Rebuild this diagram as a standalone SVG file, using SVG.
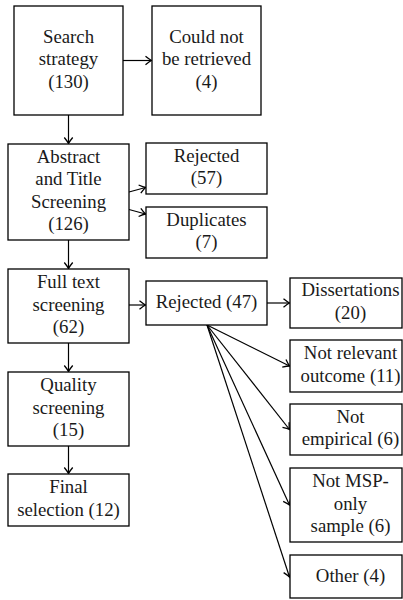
<svg xmlns="http://www.w3.org/2000/svg" width="403" height="600" viewBox="0 0 403 600">
<style>
.box{fill:#fff;stroke:#000;stroke-width:1.3}
text{font-size:18.8px;text-anchor:middle;fill:#1a1a1a}
.c{fill:none;stroke:#000;stroke-width:1.2}
</style>
<defs>
<marker id="ah" markerUnits="userSpaceOnUse" markerWidth="12" markerHeight="12" viewBox="-8 -6 10 12" refX="0" refY="0" orient="auto">
<path d="M-6,-4.2 Q-2,-1 0,0 Q-2,1 -6,4.2" fill="none" stroke="#000" stroke-width="1.3"/>
</marker>
</defs>
<rect width="403" height="600" fill="#fff"/>
<g id="connectors">
<path class="c" d="M123,60.5 L151.5,60.5" marker-end="url(#ah)"/>
<path class="c" d="M68.5,115 L68.5,143.5" marker-end="url(#ah)"/>
<path class="c" d="M129,192 L145.5,187.5" marker-end="url(#ah)"/>
<path class="c" d="M129,209.5 L145.5,214" marker-end="url(#ah)"/>
<path class="c" d="M68.5,240 L68.5,268.5" marker-end="url(#ah)"/>
<path class="c" d="M129,305 L145.5,305" marker-end="url(#ah)"/>
<path class="c" d="M68.5,343 L68.5,371.5" marker-end="url(#ah)"/>
<path class="c" d="M68.5,446 L68.5,473.5" marker-end="url(#ah)"/>
<path class="c" d="M267,303 L289.5,303" marker-end="url(#ah)"/>
<path class="c" d="M207,325 L289.5,366" marker-end="url(#ah)"/>
<path class="c" d="M207,325 L289.5,429.5" marker-end="url(#ah)"/>
<path class="c" d="M207,325 L289.5,505" marker-end="url(#ah)"/>
<path class="c" d="M207,325 L289.5,577" marker-end="url(#ah)"/>
</g>
<g font-family="Liberation Serif">
<g id="search"><rect class="box" x="14" y="6" width="109" height="109"/>
<text x="68.5" y="42.5">Search</text><text x="68.5" y="65">strategy</text><text x="68.5" y="87.5">(130)</text></g>
<g id="couldnot"><rect class="box" x="152" y="6" width="109" height="109"/>
<text x="206.5" y="42.5">Could not</text><text x="206.5" y="65">be retrieved</text><text x="206.5" y="87.5">(4)</text></g>
<g id="abstract"><rect class="box" x="8" y="144" width="121" height="96"/>
<text x="68.5" y="162.75">Abstract</text><text x="68.5" y="185.25">and Title</text><text x="68.5" y="207.75">Screening</text><text x="68.5" y="230.25">(126)</text></g>
<g id="rejected57"><rect class="box" x="146" y="143" width="121" height="51"/>
<text x="206.5" y="161.75">Rejected</text><text x="206.5" y="184.25">(57)</text></g>
<g id="duplicates"><rect class="box" x="146" y="207" width="121" height="51"/>
<text x="206.5" y="225.75">Duplicates</text><text x="206.5" y="248.25">(7)</text></g>
<g id="fulltext"><rect class="box" x="8" y="269" width="121" height="74"/>
<text x="68.5" y="288">Full text</text><text x="68.5" y="310.5">screening</text><text x="68.5" y="333">(62)</text></g>
<g id="rejected47"><rect class="box" x="146" y="281" width="121" height="44"/>
<text x="206.5" y="307.5">Rejected (47)</text></g>
<g id="quality"><rect class="box" x="8" y="372" width="121" height="74"/>
<text x="68.5" y="391">Quality</text><text x="68.5" y="413.5">screening</text><text x="68.5" y="436">(15)</text></g>
<g id="final"><rect class="box" x="8" y="474" width="121" height="52"/>
<text x="68.5" y="493.25">Final</text><text x="68.5" y="515.75">selection (12)</text></g>
<g id="dissertations"><rect class="box" x="290" y="278" width="112" height="50"/>
<text x="350.5" y="296.25">Dissertations</text><text x="350.5" y="318.75">(20)</text></g>
<g id="notrelevant"><rect class="box" x="290" y="340" width="112" height="52"/>
<text x="350.5" y="359.25">Not relevant</text><text x="350.5" y="381.75">outcome (11)</text></g>
<g id="notempirical"><rect class="box" x="290" y="404" width="112" height="51"/>
<text x="350.5" y="422.75">Not</text><text x="350.5" y="445.25">empirical (6)</text></g>
<g id="notmsp"><rect class="box" x="290" y="468" width="112" height="74"/>
<text x="350.5" y="487">Not MSP-</text><text x="350.5" y="509.5">only</text><text x="350.5" y="532">sample (6)</text></g>
<g id="other"><rect class="box" x="290" y="555" width="112" height="43"/>
<text x="350.5" y="581.5">Other (4)</text></g>
</g>
</svg>
